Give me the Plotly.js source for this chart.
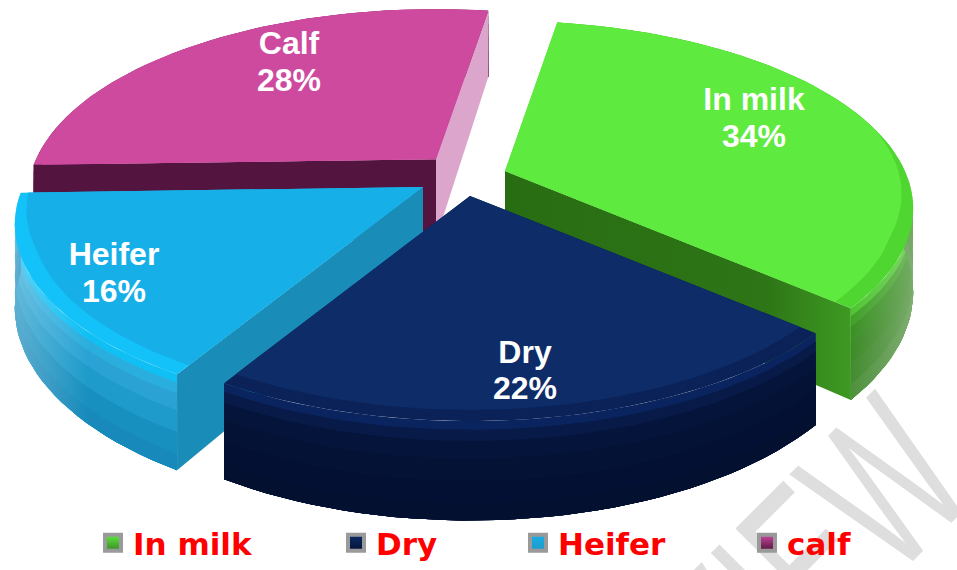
<!DOCTYPE html>
<html><head><meta charset="utf-8">
<script src="https://cdn.plot.ly/plotly-3.0.1.min.js"></script>
<style>
html,body{margin:0;padding:0;background:#fff}
#wrap{position:relative;width:957px;height:570px;overflow:hidden;background:#fff}
#c{position:absolute;left:0;top:0;width:957px;height:570px}
#mark{position:absolute;left:619px;top:855px;line-height:0;white-space:nowrap;color:#dedede;
  font:216px 'Liberation Sans',Arial,sans-serif;line-height:0;transform-origin:0 0;
  transform:rotate(-45deg) scale(.6,1) translate(0,-75px)}
</style>
</head><body><div id="wrap"><div id="mark">REVIEW</div><div id="c"></div></div>
<script>
// Data
const categories = ['In milk', 'Dry', 'Heifer', 'Calf'];
const legendNames = ['In milk', 'Dry', 'Heifer', 'calf'];
const shares = [34, 22, 16, 28];

// Styles and view geometry (pixel-like data space)
const topColors = ['#5eea3e', '#0d2c68', '#17afe8', '#cd4a9f'];
const rimColors = ['#4fd630', '#0a2258', '#12c2f8', '#cd4a9f'];
const startWall = [null, null, '#1a8cb8', '#53143f'];
const endWall = ['#2a6e14', null, null, '#dca6cc'];
const outerWall = [
  ['#4cc52e', '#3f9f27', '#3a8f24', '#3c8a27', '#428a2f', '#4d8f3b'],
  ['#0a2460', '#071a48', '#05143a', '#041236', '#031033', '#03102f'],
  ['#10c0f4', '#2aaede', '#2aa3d4', '#1e9bca', '#1890bf', '#178abb'],
  ['#53143f', '#53143f', '#53143f', '#53143f', '#53143f', '#53143f']
];
// where on the outer wall the light edge falls: stops of a left-to-right tint
const wallTint = [[[0, 0], [0.82, 0], [1, 0.28]], [[0, 0], [1, 0]], [[0, 0.3], [0.45, 0], [1, 0]], [[0, 0], [1, 0]]];
const apexX = [505, 470, 423, 436];
const apexY = [172, 197, 188, 160];
const bandDepth = [0, 7, 16, 30, 48, 66, 80];
const rotation = 9, radiusX = 400, radiusY = 181, tilt = 0.2;
const drawOrder = [3, 0, 2, 1];
const labelX = [754, 525, 114, 289];
const labelY = [121, 375, 277, 65];
const labelGap = 18.5;
const legendX = [93, 336, 518, 747];

function project(i, r, deg, depth) {
  const a = deg * Math.PI / 180, x = r * Math.sin(a), y = -r * Math.cos(a);
  const s = 1 / (1 - tilt * y);
  return [apexX[i] + radiusX * x * s, apexY[i] + radiusY * y * s + depth * s];
}
function arc(i, r, a0, a1, depth) {
  const n = Math.max(2, Math.ceil(Math.abs(a1 - a0) / 2)), out = [];
  for (let k = 0; k <= n; k++) out.push(project(i, r, a0 + (a1 - a0) * k / n, depth));
  return out;
}
// inner edge of the bevel: only the side nearest the viewer has one
function bevelArc(i, a0, a1) {
  const n = Math.ceil((a1 - a0) / 2), out = [];
  for (let k = 0; k <= n; k++) {
    const d = a0 + (a1 - a0) * k / n;
    const w = Math.max(0, Math.min(1, (0.25 - Math.cos(d * Math.PI / 180)) / 0.6));
    out.push(project(i, 1 - 0.04 * w, d, 0));
  }
  return out;
}
function mix(hex, t) {
  const n = parseInt(hex.slice(1), 16), c = [n >> 16, (n >> 8) & 255, n & 255].map(v => Math.round(v + (255 - v) * t));
  return 'rgb(' + c.join(',') + ')';
}
function poly(pts, color, scale) {
  const t = {
    type: 'scatter', mode: 'lines', fill: 'toself', fillcolor: color,
    x: pts.map(p => p[0]), y: pts.map(p => p[1]),
    line: {width: 0, color: color}, hoverinfo: 'skip', showlegend: false
  };
  if (scale) t.fillgradient = {type: 'horizontal', colorscale: scale};
  return t;
}

const total = shares.reduce((a, b) => a + b, 0);
const startA = [], endA = [];
let acc = rotation;
shares.forEach((v, i) => { startA[i] = acc; acc += v / total * 360; endA[i] = acc; });

const traces = [];
drawOrder.forEach(i => {
  const a0 = startA[i], a1 = endA[i], depth = bandDepth[bandDepth.length - 1];
  outerWall[i].forEach((col, b) => {
    traces.push(poly(arc(i, 1, a0, a1, bandDepth[b]).concat(arc(i, 1, a1, a0, depth)), col,
      wallTint[i].map(s => [s[0], mix(col, s[1])])));
  });
  [[a0, startWall[i]], [a1, endWall[i]]].forEach(([ang, col]) => {
    if (!col) return;
    const grad = i === 0 ? [[0, '#296d13'], [0.75, '#2d7516'], [1, '#3e9a22']] : null;
    traces.push(poly([project(i, 0, ang, 0), project(i, 1, ang, 0), project(i, 1, ang, depth), project(i, 0, ang, depth)], col, grad));
  });
  traces.push(poly([project(i, 0, a0, 0)].concat(arc(i, 1, a0, a1, 0)), rimColors[i]));
  traces.push(poly([project(i, 0, a0, 0)].concat(bevelArc(i, a0, a1)), topColors[i]));
});

// Percent labels
const lx = [], ly = [], lt = [];
shares.forEach((v, i) => {
  lx.push(labelX[i], labelX[i]);
  ly.push(labelY[i] - labelGap, labelY[i] + labelGap);
  lt.push(categories[i], v + '%');
});
traces.push({
  type: 'scatter', mode: 'text', x: lx, y: ly, text: lt, textposition: 'middle center',
  textfont: {family: 'Liberation Sans, Arial, sans-serif', size: 32, color: '#ffffff', weight: 700},
  hoverinfo: 'skip', showlegend: false
});

// Legend entries
const layoutLegends = {};
categories.forEach((c, i) => {
  const key = i === 0 ? 'legend' : 'legend' + (i + 1);
  traces.push({
    type: 'scatter', mode: 'markers', x: [null], y: [null], name: legendNames[i], legend: key, showlegend: true,
    marker: {symbol: 'square', size: 19, color: topColors[i], line: {color: '#9a9a9a', width: 4},
             gradient: {type: 'vertical', color: outerWall[i][3]}}
  });
  layoutLegends[key] = {
    x: legendX[i] / 957, y: 1 - 546 / 570, xanchor: 'left', yanchor: 'middle',
    bgcolor: 'rgba(255,255,255,0)', itemwidth: 30,
    font: {family: 'DejaVu Sans, sans-serif', size: 31, color: '#ff0000', weight: 700}
  };
});

const layout = Object.assign({
  width: 957, height: 570, margin: {l: 0, r: 0, t: 0, b: 0},
  paper_bgcolor: 'rgba(0,0,0,0)', plot_bgcolor: 'rgba(0,0,0,0)',
  xaxis: {range: [0, 957], visible: false, fixedrange: true},
  yaxis: {range: [570, 0], visible: false, fixedrange: true}
}, layoutLegends);

Plotly.newPlot('c', traces, layout, {displayModeBar: false, staticPlot: true});
</script></body></html>
